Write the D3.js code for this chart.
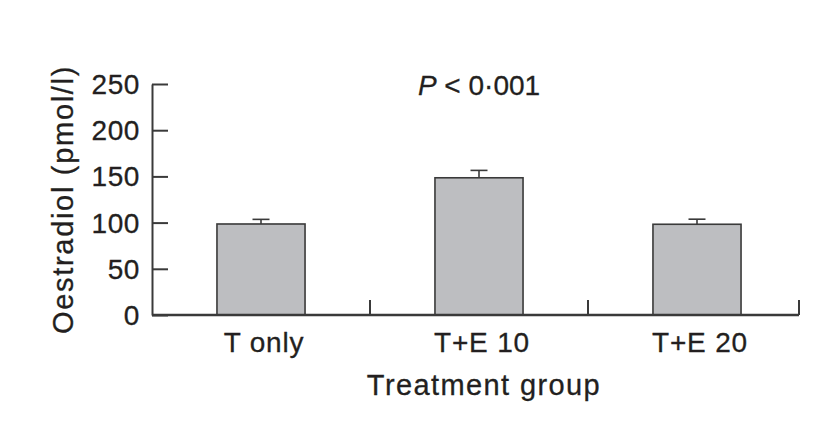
<!DOCTYPE html>
<html>
<head>
<meta charset="utf-8">
<script src="https://cdn.jsdelivr.net/npm/d3@7"></script>
<style>
  body { margin: 0; background: #fff; }
  text { font-family: "Liberation Sans", Arial, sans-serif; fill: #231f20; stroke: #231f20; stroke-width: 0.3px; }
</style>
</head>
<body>
<script>
// data
var groups = ['T only', 'T+E 10', 'T+E 20'];
var oestradiol = [98.5, 148.5, 98.2];
var sem = [5, 8, 5.5];
var yTicks = [0, 50, 100, 150, 200, 250];
var pLabel = ['P', ' < 0\u00b7001'];

var width = 840, height = 423;
var plotLeft = 152, plotBottom = 315, plotTop = 84, axisEnd = 799;

var svg = d3.select('body').append('svg').attr('width', width).attr('height', height);

var y = d3.scaleLinear().domain([0, 250]).range([plotBottom, plotTop]);
var x = d3.scaleBand().domain(groups).range([plotLeft, 806]).paddingInner(0.596).paddingOuter(0.298);

var ink = '#3a3a3a';

// bars
svg.selectAll('.bar').data(oestradiol).enter().append('rect')
    .attr('class', 'bar')
    .attr('x', function(d, i) { return x(groups[i]); })
    .attr('y', function(d) { return y(d); })
    .attr('width', x.bandwidth())
    .attr('height', function(d) { return plotBottom - y(d); })
    .attr('fill', '#bdbec1')
    .attr('stroke', ink)
    .attr('stroke-width', 1.6);

// error bars (upper only)
var err = svg.selectAll('.err').data(oestradiol).enter().append('g').attr('class', 'err')
    .attr('stroke', ink).attr('stroke-width', 1.6);
err.append('line')
    .attr('x1', function(d, i) { return x(groups[i]) + x.bandwidth() / 2; })
    .attr('x2', function(d, i) { return x(groups[i]) + x.bandwidth() / 2; })
    .attr('y1', function(d) { return y(d); })
    .attr('y2', function(d, i) { return y(d + sem[i]); });
err.append('line')
    .attr('x1', function(d, i) { return x(groups[i]) + x.bandwidth() / 2 - 8.5; })
    .attr('x2', function(d, i) { return x(groups[i]) + x.bandwidth() / 2 + 8.5; })
    .attr('y1', function(d, i) { return y(d + sem[i]); })
    .attr('y2', function(d, i) { return y(d + sem[i]); });

// y axis, ticks point inward
var yAxis = svg.append('g').attr('transform', 'translate(' + plotLeft + ',0)')
    .call(d3.axisRight(y).tickValues(yTicks).tickSize(16).tickSizeOuter(0).tickFormat(''));
yAxis.select('.domain').attr('stroke', ink).attr('stroke-width', 2);
yAxis.selectAll('.tick line').attr('stroke', ink).attr('stroke-width', 2);

svg.selectAll('.ylab').data(yTicks).enter().append('text')
    .attr('class', 'ylab')
    .attr('x', plotLeft - 12)
    .attr('y', function(d) { return y(d); })
    .attr('dy', '0.36em')
    .attr('text-anchor', 'end')
    .style('font-size', '28px')
    .style('letter-spacing', '0.6px')
    .text(function(d) { return d; });

// x axis with upward separator ticks
svg.append('line').attr('x1', plotLeft).attr('x2', axisEnd).attr('y1', plotBottom).attr('y2', plotBottom)
    .attr('stroke', ink).attr('stroke-width', 2.4);
var seps = groups.slice(1).map(function(g) { return x(g) - x.step() * x.paddingInner() / 2; });
seps.push(axisEnd);
svg.selectAll('.sep').data(seps).enter().append('line')
    .attr('x1', function(d) { return d; }).attr('x2', function(d) { return d; })
    .attr('y1', plotBottom).attr('y2', plotBottom - 15)
    .attr('stroke', ink).attr('stroke-width', 2);

svg.selectAll('.xlab').data(groups).enter().append('text')
    .attr('x', function(d) { return x(d) + x.bandwidth() / 2 + 3; })
    .attr('y', 352)
    .attr('text-anchor', 'middle')
    .style('font-size', '28px')
    .style('letter-spacing', '0.8px')
    .text(function(d) { return d; });

// axis titles
svg.append('text')
    .attr('x', 484).attr('y', 395)
    .attr('text-anchor', 'middle')
    .style('font-size', '29px')
    .style('letter-spacing', '1.4px')
    .text('Treatment group');

svg.append('text')
    .attr('transform', 'translate(73,199.5) rotate(-90)')
    .attr('text-anchor', 'middle')
    .style('font-size', '29px')
    .style('letter-spacing', '1.7px')
    .text('Oestradiol (pmol/l)');

// significance label
var p = svg.append('text')
    .attr('x', x('T+E 10') + x.bandwidth() / 2).attr('y', 95)
    .attr('text-anchor', 'middle')
    .style('font-size', '28px');
p.append('tspan').style('font-style', 'italic').text(pLabel[0]);
p.append('tspan').text(pLabel[1]);
</script>
</body>
</html>
